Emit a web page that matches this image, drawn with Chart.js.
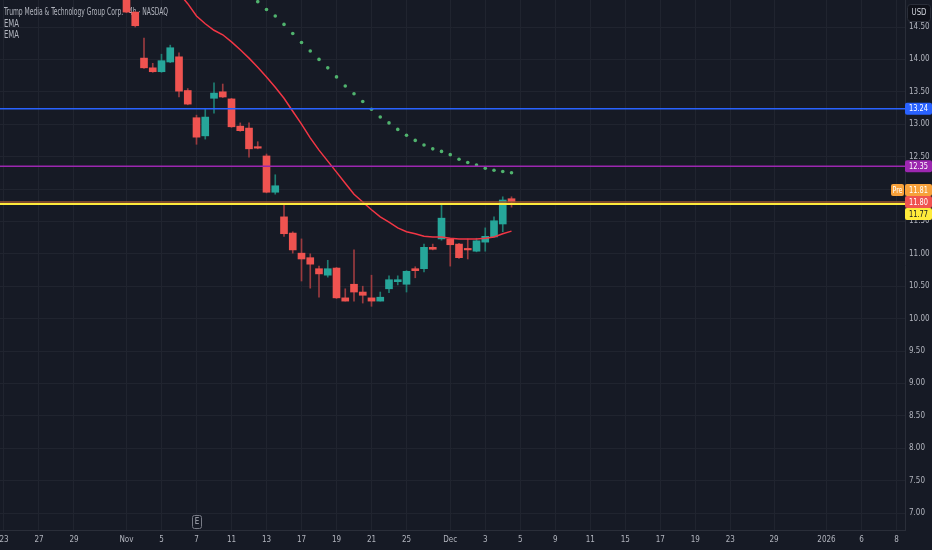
<!DOCTYPE html>
<html>
<head>
<meta charset="utf-8">
<title>DJT 4h</title>
<script src="https://cdn.jsdelivr.net/npm/chart.js@4.4.1/dist/chart.umd.min.js"></script>
<style>
  html, body { margin: 0; padding: 0; background: #161a25; }
  canvas { display: block; }
</style>
</head>
<body>
<canvas id="djtChart" width="932" height="550"></canvas>
<script>
// 4h bars (2 per session, 1 on half days). first visible bar = index 14 (Nov 3)
const firstBar = 14;
const opens  = [15.05, 14.73, 14.02, 13.87, 13.81, 13.96, 14.04, 13.52, 13.10, 12.82,
                13.40, 13.50, 13.39, 12.97, 12.94, 12.64, 12.51, 11.95, 11.57, 11.32,
                11.01, 10.94, 10.77, 10.67, 10.78, 10.32, 10.53, 10.41, 10.32, 10.27,
                10.46, 10.57, 10.53, 10.77, 10.77, 11.10, 11.23, 11.23, 11.15, 11.07,
                11.04, 11.18, 11.26, 11.46, 11.85];
const highs  = [15.10, 14.74, 14.33, 13.94, 14.08, 14.22, 14.10, 13.55, 13.14, 13.23,
                13.64, 13.62, 13.40, 13.02, 13.02, 12.73, 12.54, 12.22, 11.75, 11.34,
                11.23, 11.00, 10.81, 10.90, 10.79, 10.46, 11.06, 10.50, 10.67, 10.41,
                10.66, 10.66, 10.74, 10.80, 11.15, 11.15, 11.75, 11.23, 11.16, 11.23,
                11.24, 11.40, 11.57, 11.88, 11.88];
const lows   = [14.72, 14.50, 13.86, 13.80, 13.80, 13.95, 13.42, 13.30, 12.69, 12.77,
                13.17, 13.41, 12.95, 12.89, 12.49, 12.62, 11.94, 11.92, 11.27, 11.01,
                10.58, 10.47, 10.33, 10.64, 10.31, 10.27, 10.27, 10.24, 10.19, 10.27,
                10.40, 10.52, 10.41, 10.63, 10.72, 11.06, 11.21, 10.81, 10.93, 10.92,
                11.03, 11.04, 11.26, 11.34, 11.72];
const closes = [14.73, 14.52, 13.87, 13.81, 13.98, 14.18, 13.51, 13.31, 12.80, 13.11,
                13.48, 13.42, 12.96, 12.90, 12.62, 12.63, 11.95, 12.05, 11.31, 11.06,
                10.92, 10.84, 10.69, 10.77, 10.32, 10.27, 10.41, 10.36, 10.27, 10.33,
                10.60, 10.60, 10.73, 10.74, 11.10, 11.07, 11.55, 11.14, 10.94, 11.06,
                11.20, 11.27, 11.51, 11.83, 11.80];

// red EMA line, from bar 20
const emaLineStart = 20;
const emaLine = [15.02, 14.86, 14.67, 14.55, 14.45, 14.38, 14.27, 14.15, 14.02, 13.88,
                 13.73, 13.57, 13.40, 13.20, 13.00, 12.79, 12.60, 12.43, 12.26, 12.09,
                 11.92, 11.80, 11.68, 11.57, 11.49, 11.40, 11.34, 11.31, 11.27, 11.26,
                 11.26, 11.24, 11.23, 11.23, 11.23, 11.24, 11.26, 11.31, 11.35];

// green dotted EMA, from bar 29
const emaDotsStart = 29;
const emaDots = [14.89, 14.77, 14.67, 14.54, 14.40, 14.26, 14.13, 14.00, 13.87, 13.73,
                 13.59, 13.47, 13.35, 13.23, 13.11, 13.02, 12.92, 12.83, 12.75, 12.68,
                 12.62, 12.58, 12.53, 12.46, 12.41, 12.37, 12.32, 12.29, 12.27, 12.25];

const tickIndex  = [0, 4, 8, 14, 18, 22, 26, 30, 34, 38, 42, 46, 51, 55, 59, 63, 67, 71, 75, 79, 83, 88, 94, 98, 102];
const tickLabels = ['23', '27', '29', 'Nov', '5', '7', '11', '13', '17', '19', '21', '25', 'Dec', '3', '5', '9', '11', '15', '17', '19', '23', '29', '2026', '6', '8'];

const levels = [13.24, 12.35, 11.80, 11.77];
const levelColors = ['#2962ff', '#9c27b0', '#9a5634', '#ffeb3b'];
const preMarket = 11.81;
const lastPrice = 11.80;
const earningsBar = 22;

const upColor = '#26a69a', downColor = '#ef5350';
const upWick = '#1f7d72', downWick = '#9b3b3f';
const textColor = '#b2b5be';
const gridColor = '#20242f';
const fontFamily = "'Liberation Sans Narrow', 'DejaVu Sans Condensed', 'Liberation Sans', sans-serif";

const barX = opens.map((_, i) => firstBar + i);
const isUp = opens.map((o, i) => closes[i] >= o);

const wickData = barX.map((x, i) => ({ x: x, y: [lows[i], highs[i]] }));
const bodyData = barX.map((x, i) => ({ x: x, y: [opens[i], closes[i]] }));

const levelSets = levels.map((v, k) => ({
  type: 'line',
  data: [{ x: -1, y: v }, { x: 104, y: v }],
  borderColor: levelColors[k],
  borderWidth: k === 3 ? 2 : 1.5,
  pointRadius: 0,
  order: 0
}));

const legendText = {
  id: 'legendText',
  beforeDatasetsDraw(chart) {
    const ctx = chart.ctx;
    ctx.save();
    ctx.fillStyle = textColor;
    ctx.font = '10px ' + fontFamily;
    ctx.textBaseline = 'middle';
    ctx.textAlign = 'left';
    ctx.fillText('Trump Media & Technology Group Corp. · 4h · NASDAQ', 4, 12.5, 164);
    ctx.fillText('EMA', 4, 24, 15);
    ctx.fillText('EMA', 4, 35, 15);
    ctx.restore();
  }
};

const priceTags = {
  id: 'priceTags',
  afterDraw(chart) {
    const { ctx, chartArea } = chart;
    const y = chart.scales.y, x = chart.scales.x;
    const h = 12;
    const tags = [
      { v: levels[0], bg: '#2962ff', fg: '#ffffff' },
      { v: levels[1], bg: '#9c27b0', fg: '#ffffff' },
      { v: preMarket, bg: '#f7a13a', fg: '#ffffff', pre: true },
      { v: lastPrice, bg: '#f05350', fg: '#ffffff', anchor: true },
      { v: levels[3], bg: '#ffeb3b', fg: '#131722' }
    ];
    tags.forEach(t => { t.py = y.getPixelForValue(t.v); });
    tags.sort((a, b) => a.py - b.py);
    const a = tags.findIndex(t => t.anchor);
    for (let i = a - 1; i >= 0; i--) tags[i].py = Math.min(tags[i].py, tags[i + 1].py - h);
    for (let i = a + 1; i < tags.length; i++) tags[i].py = Math.max(tags[i].py, tags[i - 1].py + h);

    ctx.save();
    ctx.font = '8px ' + fontFamily;
    ctx.textBaseline = 'middle';
    ctx.textAlign = 'left';
    const left = chartArea.right, w = chart.width - chartArea.right;
    tags.forEach(t => {
      ctx.fillStyle = t.bg;
      ctx.beginPath();
      ctx.roundRect(left, t.py - h / 2, w, h, 2);
      ctx.fill();
      ctx.fillStyle = t.fg;
      ctx.fillText(t.v.toFixed(2), left + 4, t.py + 0.5, 19);
      if (t.pre) {
        ctx.fillStyle = t.bg;
        ctx.beginPath();
        ctx.roundRect(left - 14, t.py - h / 2, 13, h, 2);
        ctx.fill();
        ctx.fillStyle = t.fg;
        ctx.fillText('Pre', left - 12.5, t.py + 0.5, 10);
      }
    });

    // USD box
    ctx.fillStyle = '#0f1119';
    ctx.strokeStyle = '#2a2e39';
    ctx.beginPath();
    ctx.roundRect(left + 2.5, 4.5, 23, 17, 3);
    ctx.fill();
    ctx.stroke();
    ctx.fillStyle = '#d1d4dc';
    ctx.textAlign = 'center';
    ctx.font = '8px ' + fontFamily;
    ctx.fillText('USD', left + 14, 13, 15);

    // earnings marker
    const ex = x.getPixelForValue(earningsBar);
    ctx.fillStyle = '#161a25';
    ctx.strokeStyle = '#787b86';
    ctx.beginPath();
    ctx.roundRect(ex - 4, 515.5, 9, 13, 2);
    ctx.fill();
    ctx.stroke();
    ctx.fillStyle = '#b2b5be';
    ctx.font = '8px ' + fontFamily;
    ctx.fillText('E', ex + 0.5, 522);
    ctx.restore();
  }
};

new Chart(document.getElementById('djtChart').getContext('2d'), {
  type: 'bar',
  data: {
    datasets: [
      ...levelSets,
      {
        type: 'line',
        data: emaLine.map((v, i) => ({ x: emaLineStart + i, y: v })),
        borderColor: '#f23645',
        borderWidth: 1.5,
        pointRadius: 0,
        order: 1
      },
      {
        type: 'line',
        data: emaDots.map((v, i) => ({ x: emaDotsStart + i, y: v })),
        showLine: false,
        pointRadius: 1.8,
        pointBorderWidth: 0,
        pointBackgroundColor: '#50b36e',
        order: 1
      },
      {
        data: bodyData,
        backgroundColor: isUp.map(u => u ? upColor : downColor),
        barThickness: 7,
        minBarLength: 1.5,
        grouped: false,
        order: 3
      },
      {
        data: wickData,
        backgroundColor: isUp.map(u => u ? upWick : downWick),
        barThickness: 1,
        grouped: false,
        order: 4
      }
    ]
  },
  options: {
    responsive: false,
    animation: false,
    layout: { padding: 0, autoPadding: false },
    plugins: {
      legend: { display: false },
      tooltip: { enabled: false }
    },
    scales: {
      x: {
        type: 'linear',
        offset: false,
        min: -0.457,
        max: 102.97,
        grid: { color: gridColor, drawTicks: false, offset: false },
        border: { display: true, color: '#2a2e39' },
        afterBuildTicks: s => { s.ticks = tickIndex.map(v => ({ value: v })); },
        afterFit: s => { s.height = 20; s.paddingLeft = 0; s.paddingRight = 0; },
        ticks: {
          autoSkip: false,
          maxRotation: 0,
          padding: 5,
          color: textColor,
          font: { family: fontFamily, size: 8 },
          callback: v => tickLabels[tickIndex.indexOf(v)]
        }
      },
      y: {
        position: 'right',
        min: 6.7377,
        max: 14.9167,
        grid: { color: gridColor, drawTicks: false },
        border: { display: true, color: '#2a2e39' },
        afterFit: s => { s.width = 27; s.paddingTop = 0; s.paddingBottom = 0; },
        ticks: {
          stepSize: 0.5,
          includeBounds: false,
          padding: 4,
          color: textColor,
          font: { family: fontFamily, size: 8 },
          callback: v => v.toFixed(2)
        }
      }
    }
  },
  plugins: [legendText, priceTags]
});
</script>
</body>
</html>
